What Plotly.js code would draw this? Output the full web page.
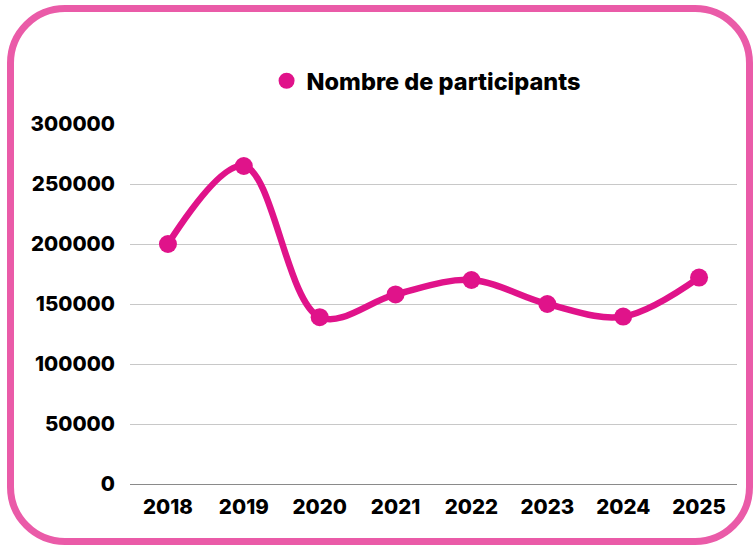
<!DOCTYPE html>
<html>
<head>
<meta charset="utf-8">
<script src="https://cdn.plot.ly/plotly-3.0.1.min.js"></script>
<style>
  html, body { margin: 0; padding: 0; background: #ffffff; }
  #wrap { position: relative; width: 754px; height: 547px; overflow: hidden; }
  #chart { position: absolute; left: 0; top: 0; width: 754px; height: 547px; }
  #frame { position: absolute; left: 7px; top: 5px; width: 732px; height: 526px;
           border: 7px solid #EA5BA8; border-radius: 58px; pointer-events: none; }
</style>
</head>
<body>
<div id="wrap">
  <div id="chart"></div>
  <div id="frame"></div>
</div>
<script>
const years = ['2018', '2019', '2020', '2021', '2022', '2023', '2024', '2025'];
const participants = [200000, 265000, 139000, 158000, 170000, 150000, 139500, 172000];
const seriesName = 'Nombre de participants';
const yTicks = [0, 50000, 100000, 150000, 200000, 250000, 300000];

const pink = '#E0138A';
const fontFamily = 'Inter, "Open Sans", sans-serif';

const traces = [
  {
    x: years, y: participants, type: 'scatter', mode: 'lines+markers',
    line: { color: pink, width: 6.5, shape: 'spline', smoothing: 1 },
    marker: { color: pink, size: 18 },
    showlegend: false, cliponaxis: false, hoverinfo: 'x+y'
  },
  {
    x: [null], y: [null], type: 'scatter', mode: 'markers', name: seriesName,
    marker: { color: pink, size: 22 }, showlegend: true
  }
];

const layout = {
  width: 754, height: 547,
  margin: { l: 130, r: 17, t: 124, b: 63 },
  paper_bgcolor: '#ffffff', plot_bgcolor: '#ffffff',
  font: { family: fontFamily, color: '#000000', size: 20, weight: 800 },
  showlegend: true,
  legend: {
    orientation: 'h', x: 0.225, xanchor: 'left', y: 0.852, yref: 'container', yanchor: 'middle',
    font: { family: fontFamily, size: 23.5, color: '#000000', weight: 800 },
    bgcolor: 'rgba(0,0,0,0)'
  },
  xaxis: {
    type: 'category', range: [-0.5, 7.5], showgrid: false, zeroline: false,
    showline: false, ticks: '', ticklabelstandoff: 8,
    tickfont: { family: fontFamily, size: 20.5, color: '#000000', weight: 800 },
    fixedrange: true
  },
  yaxis: {
    range: [0, 300000], tickvals: yTicks, ticktext: yTicks.map(String),
    showgrid: true, gridcolor: '#C8C8C8', gridwidth: 1,
    zeroline: true, zerolinecolor: '#8A8A8A', zerolinewidth: 1,
    showline: false, ticks: '', ticklabelstandoff: 14,
    tickfont: { family: fontFamily, size: 20.5, color: '#000000', weight: 800 },
    fixedrange: true
  }
};

Plotly.newPlot('chart', traces, layout, { displayModeBar: false, staticPlot: true });
</script>
</body>
</html>
